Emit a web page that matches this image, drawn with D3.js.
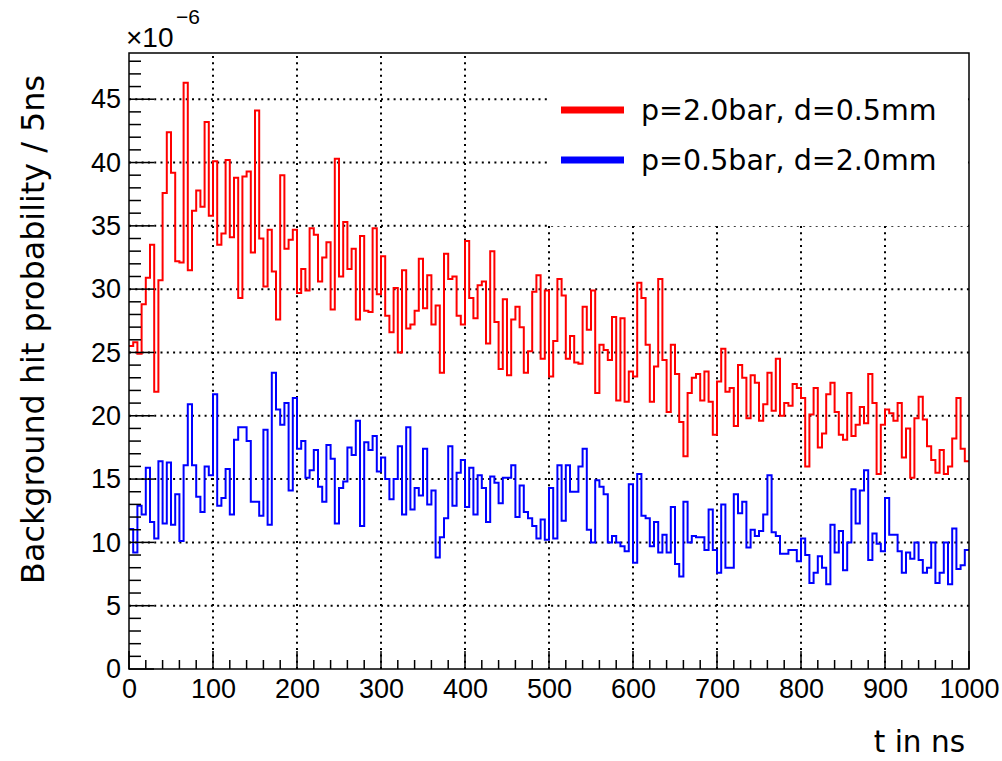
<!DOCTYPE html>
<html>
<script src="https://d3js.org/d3.v7.min.js"></script>
<body style="margin:0;background:white">
<div id="chart"></div>
<script>

// histogram contents, 200 bins of 5 ns, in units of 1e-6
var binWidth = 5;
var redCounts = [
 25.5,25.8,24.9,28.8,30.9,33.5,21.9,30.7,37.6,42.4, 39.2,32.2,32.1,46.3,31.5,36.2,37.8,36.5,43.2,35.8,
 40.1,33.5,34.4,40.2,34.1,38.8,29.3,38.9,39.3,32.9, 44.1,34.0,30.2,34.7,31.4,27.6,39.0,33.2,33.9,34.7,
 29.7,31.6,29.9,34.8,34.3,30.6,32.5,33.7,28.4,40.3, 31.0,35.3,31.6,33.2,27.6,34.2,28.3,28.2,34.8,29.6,
 32.6,27.9,26.6,30.1,25.0,31.5,26.9,27.2,28.3,32.4, 28.5,31.1,27.2,28.7,23.4,32.8,30.8,31.0,27.9,27.2,
 33.8,29.3,27.7,30.3,30.6,25.7,33.0,27.4,23.7,29.2, 23.2,27.6,28.6,27.0,23.4,25.1,29.8,31.1,24.5,29.9,
 23.1,25.9,30.8,29.5,24.5,26.3,24.2,24.1,28.6,26.8, 29.9,21.8,25.6,25.2,24.4,27.8,21.2,27.7,21.1,23.5,
 23.1,30.5,29.3,25.6,21.1,23.9,30.8,24.4,20.3,25.6, 23.3,19.5,16.8,21.8,23.0,23.3,21.2,23.5,21.1,18.5,
 22.7,25.3,21.9,22.2,19.2,24.0,23.0,19.8,23.2,22.6, 19.6,20.9,23.4,20.4,24.5,20.0,21.0,20.8,22.5,22.2,
 21.4,16.0,20.1,22.2,17.5,18.6,21.7,22.6,20.3,18.5, 18.1,21.8,18.4,19.3,20.7,19.4,23.3,21.0,15.4,19.3,
 20.5,20.2,19.6,21.0,16.7,19.0,15.1,19.8,21.5,19.7, 17.6,16.5,15.5,17.3,15.4,16.0,18.2,21.4,17.4,16.4
];
var blueCounts = [
 11.05,9.2,12.9,12.2,15.9,11.6,10.3,16.4,11.5,16.3, 11.4,13.8,10.1,16.1,20.9,16.1,13.6,12.4,16.0,15.3,
 21.7,12.9,13.5,15.8,12.2,18.1,19.1,19.1,18.0,13.2, 13.2,12.1,18.9,11.4,23.4,20.5,19.3,21.0,14.1,21.4,
 17.4,18.0,15.1,15.7,17.3,14.4,13.2,17.7,16.6,11.5, 14.3,14.8,17.5,16.9,19.6,11.3,17.9,17.3,18.4,15.6,
 16.7,15.0,13.4,15.0,17.6,12.2,19.1,12.6,14.3,13.7, 17.4,13.0,14.1,8.8,10.4,11.9,17.6,12.9,15.5,16.5,
 12.8,15.9,12.2,15.3,14.3,11.6,15.2,14.7,13.1,15.1, 15.1,16.1,12.0,14.5,12.4,11.9,11.3,10.3,11.8,10.2,
 14.3,10.3,16.1,11.7,16.1,14.0,14.0,16.0,17.4,11.0, 10.0,14.9,14.4,13.8,10.0,10.5,10.0,9.7,9.3,14.6,
 8.4,15.4,12.1,11.9,9.7,11.6,9.2,10.6,9.2,12.8, 8.3,7.3,13.2,10.0,10.5,10.4,10.4,9.4,12.6,9.4,
 7.6,13.0,8.0,8.0,13.8,12.3,13.2,9.6,11.0,10.5, 10.9,12.2,15.3,10.8,10.5,9.1,9.1,9.4,9.4,8.5,
 10.3,9.0,6.8,7.6,8.9,8.0,6.7,11.4,9.2,10.9, 7.8,10.0,14.2,11.5,14.1,15.7,8.6,10.7,9.9,9.3,
 13.5,10.6,10.6,9.3,7.6,9.2,8.7,10.0,8.6,7.6, 8.0,10.0,6.8,7.6,10.0,6.7,11.1,7.9,8.2,9.4
];
var seriesNames = ["p=2.0bar, d=0.5mm", "p=0.5bar, d=2.0mm"];
var seriesColors = ["#ff0000", "#0000ff"];
var xTicks = [0,100,200,300,400,500,600,700,800,900,1000];
var yTicks = [0,5,10,15,20,25,30,35,40,45];
var yMax = 48.65;

var width = 1002, height = 761;
var pL = 129, pR = 969, pT = 53, pB = 669;

var svg = d3.select("#chart").append("svg")
    .attr("width", width).attr("height", height)
    .style("display","block")
    .style("font-family","'Liberation Sans', Arial, sans-serif")

var x = d3.scaleLinear().domain([0,1000]).range([pL,pR]);
var y = d3.scaleLinear().domain([0,yMax]).range([pB,pT]);

// dotted grid
var grid = svg.append("g").attr("stroke","#000").attr("stroke-width",2).attr("stroke-dasharray","2,4.3")
grid.selectAll(".gx").data(xTicks.slice(1,-1)).enter().append("line")
    .attr("x1",d => x(d)).attr("x2",d => x(d)).attr("y1",pB).attr("y2",pT)
grid.selectAll(".gy").data(yTicks.slice(1)).enter().append("line")
    .attr("x1",pL).attr("x2",pR).attr("y1",d => y(d)).attr("y2",d => y(d))

// histograms as step lines
function steps(counts){
    var pts = counts.map((v,i) => [i*binWidth, v]);
    pts.push([counts.length*binWidth, counts[counts.length-1]]);
    return d3.line().x(d => x(d[0])).y(d => y(d[1])).curve(d3.curveStepAfter)(pts);
}
[redCounts, blueCounts].forEach(function(c,i){
    svg.append("path").attr("d", steps(c)).attr("fill","none")
        .attr("stroke", seriesColors[i]).attr("stroke-width",2)
})

// legend box covers the grid
var lx = 547;
svg.append("rect").attr("x",lx).attr("y",pT+1).attr("width",pR-lx-1).attr("height",172).attr("fill","white")
seriesNames.forEach(function(name,i){
    var cy = 110 + i*50;
    svg.append("line").attr("x1",561).attr("x2",624).attr("y1",cy).attr("y2",cy)
        .attr("stroke",seriesColors[i]).attr("stroke-width",7)
    svg.append("text").attr("x",641).attr("y",cy+10).text(name)
        .style("font-family","'DejaVu Sans'").style("font-size","28.5px").attr("fill","#000")
})

// frame
svg.append("rect").attr("x",pL).attr("y",pT).attr("width",pR-pL).attr("height",pB-pT)
    .attr("fill","none").attr("stroke","#000").attr("stroke-width",1.5)

// axes: labels only, ticks drawn inside below
var xAxis = d3.axisBottom(x).tickValues(xTicks).tickSize(0).tickPadding(10).tickFormat(d3.format("d"));
var gx = svg.append("g").attr("transform","translate(0,"+pB+")").call(xAxis);
gx.select(".domain").remove();
gx.selectAll("text").style("font-size","27px").style("font-family","'Liberation Sans'").attr("fill","#000")
var yAxis = d3.axisLeft(y).tickValues(yTicks).tickSize(0).tickPadding(8);
var gy = svg.append("g").attr("transform","translate("+pL+",0)").call(yAxis);
gy.select(".domain").remove();
gy.selectAll("text").style("font-size","27px").style("font-family","'Liberation Sans'").attr("fill","#000")

var ticks = svg.append("g").attr("stroke","#000").attr("stroke-width",1.5)
ticks.selectAll(".tx").data(d3.range(0,1001,20)).enter().append("line")
    .attr("x1",d => x(d)).attr("x2",d => x(d)).attr("y1",pB)
    .attr("y2",d => pB - (d%100==0 ? 18 : 9))
ticks.selectAll(".ty").data(d3.range(0,49,1)).enter().append("line")
    .attr("y1",d => y(d)).attr("y2",d => y(d)).attr("x1",pL)
    .attr("x2",d => pL + (d%5==0 ? 25 : 12))

// exponent
svg.append("text").attr("x",126).attr("y",47).text("\u00d710").style("font-size","28px")
svg.append("text").attr("x",176).attr("y",24).text("\u22126").style("font-size","21px")

// axis titles
svg.append("text").attr("transform","translate(44,75) rotate(-90)").attr("text-anchor","end")
    .text("Background hit probability / 5ns").style("font-family","'DejaVu Sans'").style("font-size","31.8px")
svg.append("text").attr("x",965).attr("y",752).attr("text-anchor","end")
    .text("t in ns").style("font-family","'DejaVu Sans'").style("font-size","29.5px")

</script>
</body>
</html>
